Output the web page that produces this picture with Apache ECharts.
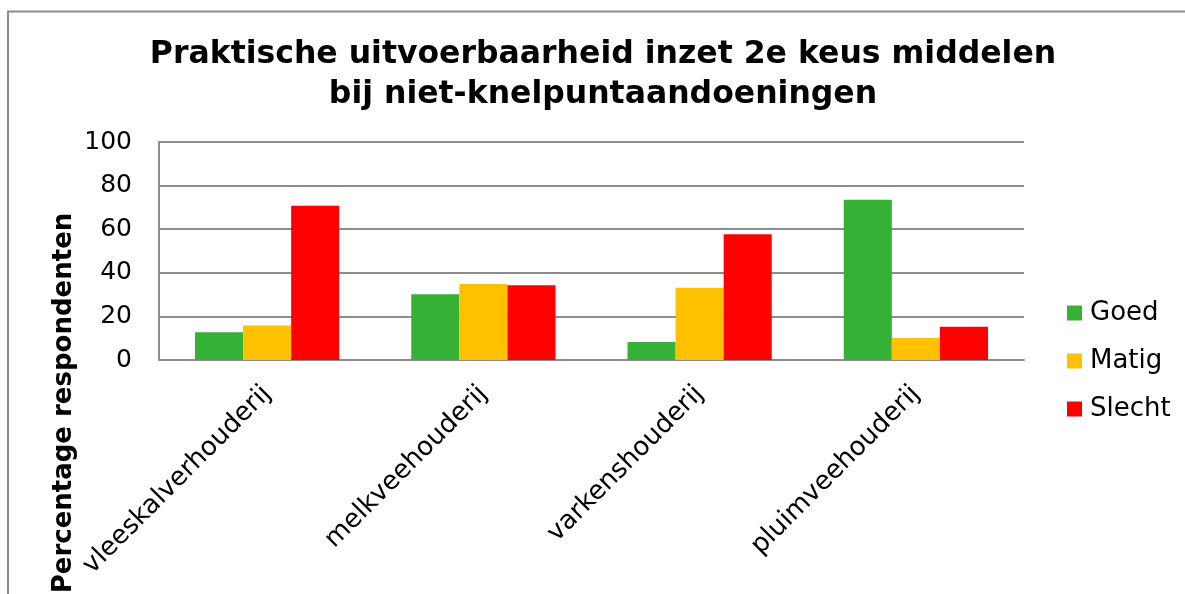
<!DOCTYPE html>
<html>
<head>
<meta charset="utf-8">
<script src="https://cdn.jsdelivr.net/npm/echarts@6/dist/echarts.min.js"></script>
<style>
html,body{margin:0;padding:0;background:#fff;}
#chart{width:1185px;height:594px;}
</style>
</head>
<body>
<div id="chart"></div>
<script>
const categories = ['vleeskalverhouderij', 'melkveehouderij', 'varkenshouderij', 'pluimveehouderij'];
const goed = [12.7, 30.2, 8.3, 73.5];
const matig = [15.8, 34.9, 33.1, 10.1];
const slecht = [70.7, 34.3, 57.7, 15.3];
const seriesNames = ['Goed', 'Matig', 'Slecht'];
const yTicks = {min: 0, max: 100, interval: 20};
const titleText = 'Praktische uitvoerbaarheid inzet 2e keus middelen\nbij niet-knelpuntaandoeningen';
const yName = 'Percentage respondenten';

const FONT = '"DejaVu Sans", Verdana, sans-serif';
const chart = echarts.init(document.getElementById('chart'), null, {renderer: 'canvas'});
const gridColor = '#8c8c8c';
chart.setOption({
  animation: false,
  backgroundColor: '#fff',
  title: {
    text: titleText,
    left: 603,
    textAlign: 'center',
    top: 35,
    padding: 0,
    textStyle: {fontFamily: FONT, fontSize: 31.5, fontWeight: 'bold', color: '#000', lineHeight: 40}
  },
  legend: {
    orient: 'vertical',
    left: 1067,
    top: 300,
    itemWidth: 15,
    itemHeight: 15,
    itemGap: 22,
    icon: 'rect',
    padding: 0,
    textStyle: {fontFamily: FONT, fontSize: 26, color: '#000', lineHeight: 26, padding: [0, 0, 0, 3]},
    data: seriesNames
  },
  grid: {left: 159, right: 161, top: 142, bottom: 234, containLabel: false},
  xAxis: {
    type: 'category',
    data: categories,
    axisLine: {show: true, lineStyle: {color: gridColor, width: 2}},
    axisTick: {show: false},
    axisLabel: {rotate: 45, margin: 30, interval: 0, fontFamily: FONT, fontSize: 26, color: '#000'}
  },
  yAxis: {
    type: 'value',
    min: yTicks.min, max: yTicks.max, interval: yTicks.interval,
    axisLine: {show: true, lineStyle: {color: gridColor, width: 2}},
    axisTick: {show: false},
    splitLine: {show: true, lineStyle: {color: gridColor, width: 2}},
    axisLabel: {margin: 27, fontFamily: FONT, fontSize: 25, color: '#000', padding: [8, 0, 0, 0]}
  },
  graphic: [
    {type: 'polyline', shape: {points: [[8, 700], [8, 11.5], [1200, 11.5]]}, style: {fill: null, stroke: gridColor, lineWidth: 2}, z: -10, silent: true},
    {type: 'text', x: 64, y: 403, rotation: Math.PI / 2, style: {text: yName, fontFamily: FONT, fontSize: 26, fontWeight: 'bold', fill: '#000', align: 'center', verticalAlign: 'middle'}}
  ],
  series: [
    {name: seriesNames[0], type: 'bar', data: goed, barGap: '0%', barCategoryGap: '33.3%', itemStyle: {color: '#35B235'}},
    {name: seriesNames[1], type: 'bar', data: matig, barGap: '0%', barCategoryGap: '33.3%', itemStyle: {color: '#FFC000'}},
    {name: seriesNames[2], type: 'bar', data: slecht, barGap: '0%', barCategoryGap: '33.3%', itemStyle: {color: '#FF0000'}}
  ]
});
</script>
</body>
</html>
